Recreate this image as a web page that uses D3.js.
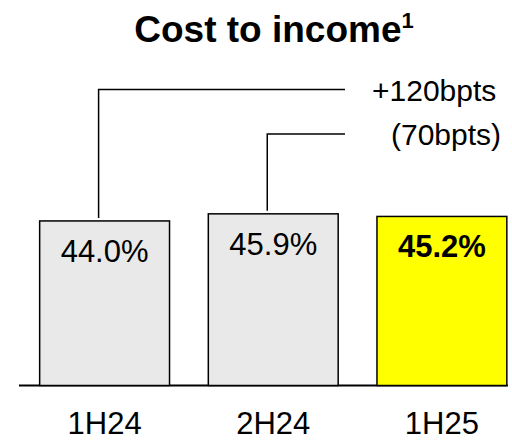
<!DOCTYPE html>
<html>
<head>
<meta charset="utf-8">
<script src="https://cdn.jsdelivr.net/npm/d3@7"></script>
<style>
  body { margin: 0; background: #fff; }
  text { font-family: Arial, "Liberation Sans", sans-serif; fill: #000; }
</style>
</head>
<body>
<div id="chart-area"></div>
<script>
var categories = ['1H24', '2H24', '1H25'];
var values = [44.0, 45.9, 45.2];
var valueLabels = ['44.0%', '45.9%', '45.2%'];
var changes = ['+120bpts', '(70bpts)'];

var width = 512, height = 441;
var baseY = 385.5;

var svg = d3.select('#chart-area').append('svg')
	.attr('width', width)
	.attr('height', height);

var x = d3.scaleBand().domain(categories).range([-2.5, 549]).paddingInner(0.23).paddingOuter(0.25);
var y = d3.scaleLinear().domain([0, 100]).range([baseY, baseY - 374]);

// title
var title = svg.append('text')
	.attr('x', 274)
	.attr('y', 42)
	.attr('text-anchor', 'middle')
	.attr('font-size', '37px')
	.attr('font-weight', 'bold')
	.text('Cost to income');
title.append('tspan')
	.attr('font-size', '22px')
	.attr('dy', -14)
	.text('1');

// baseline
svg.append('line')
	.attr('x1', 19)
	.attr('x2', x('1H25') + x.bandwidth() + 1)
	.attr('y1', baseY)
	.attr('y2', baseY)
	.attr('stroke', '#000')
	.attr('stroke-width', 2);

var bars = svg.selectAll('.bar').data(categories).enter().append('rect')
	.attr('class', 'bar')
	.attr('x', d => x(d))
	.attr('y', (d, i) => y(values[i]))
	.attr('width', x.bandwidth())
	.attr('height', (d, i) => baseY - y(values[i]))
	.attr('fill', (d, i) => i == 2 ? '#ffff00' : '#e9e9e9')
	.attr('stroke', '#000')
	.attr('stroke-width', 1.5);

svg.selectAll('.val').data(categories).enter().append('text')
	.attr('class', 'val')
	.attr('x', d => x(d) + x.bandwidth() / 2)
	.attr('y', (d, i) => y(values[i]) + 41)
	.attr('text-anchor', 'middle')
	.attr('font-size', '31px')
	.attr('font-weight', (d, i) => i == 2 ? 'bold' : 'normal')
	.text((d, i) => valueLabels[i]);

svg.selectAll('.cat').data(categories).enter().append('text')
	.attr('class', 'cat')
	.attr('x', d => x(d) + x.bandwidth() / 2)
	.attr('y', 434)
	.attr('text-anchor', 'middle')
	.attr('font-size', '31px')
	.text(d => d);

// change annotations from first two bars to the latest one
var annoY = [89.5, 134];
var annoTextX = [372, 391];
changes.forEach((c, i) => {
	var cx = x(categories[i]) + x.bandwidth() / 2 - 6;
	var endX = x('1H25') - 32;
	svg.append('path')
		.attr('d', `M${cx},${y(values[i]) - 3}V${annoY[i]}H${endX}`)
		.attr('fill', 'none')
		.attr('stroke', '#000')
		.attr('stroke-width', 1.5);
	svg.append('text')
		.attr('x', annoTextX[i])
		.attr('y', annoY[i] + 11)
		.attr('font-size', '30px')
		.text(c);
});
</script>
</body>
</html>
